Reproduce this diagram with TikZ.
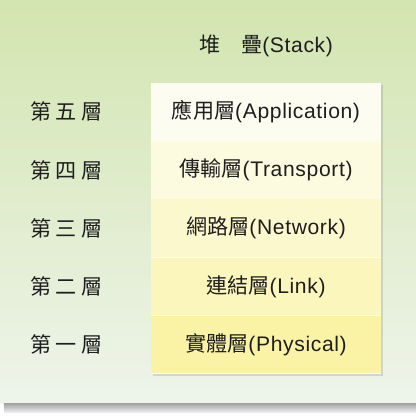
\documentclass[tikz,border=0pt]{standalone}
\usepackage{fontspec}
\setmainfont{Liberation Sans}[LetterSpace=3]
\newfontfamily\cjk{Noto Sans CJK TC}
\usetikzlibrary{positioning,shadows,backgrounds}
\definecolor{BgGreen}{RGB}{211,229,176}
\definecolor{BgPale}{RGB}{238,244,234}
\definecolor{LayerCream}{RGB}{253,252,240}
\definecolor{LayerYellow}{RGB}{250,243,165}
\definecolor{TextGray}{RGB}{30,30,30}

\begin{document}
\begin{tikzpicture}[
x=0.025cm,y=-0.025cm,
node distance=0mm,
layer/.style={
  rectangle,
  minimum width=5.75cm,
  minimum height=1.44cm,
  inner sep=0pt,
  font=\fontsize{15}{18}\selectfont,
  text=TextGray
},
num/.style={
  minimum width=2cm,
  inner sep=0pt,
  font=\fontsize{15}{18}\selectfont,
  text=TextGray
}
]
\useasboundingbox (0,0) rectangle (416,416);
\node[layer,fill=LayerCream] (app) at (266,111.8) {{\cjk 應用層}(Application)};
\node[layer,fill=LayerCream!78!LayerYellow,below=of app] (trans) {{\cjk 傳輸層}(Transport)};
\node[layer,fill=LayerCream!55!LayerYellow,below=of trans] (net) {{\cjk 網路層}(Network)};
\node[layer,fill=LayerCream!30!LayerYellow,below=of net] (link) {{\cjk 連結層}(Link)};
\node[layer,fill=LayerYellow,below=of link] (phy) {{\cjk 實體層}(Physical)};
\node[num,left=1.1cm of app] (n5) {\cjk 第 五 層};
\node[num,left=1.1cm of trans] (n4) {\cjk 第 四 層};
\node[num,left=1.1cm of net] (n3) {\cjk 第 三 層};
\node[num,left=1.1cm of link] (n2) {\cjk 第 二 層};
\node[num,left=1.1cm of phy] (n1) {\cjk 第 一 層};
\node[num,above=0.65cm of app] (stack) {{\cjk 堆　疊}(Stack)};
\begin{scope}[on background layer]
% page shading and bottom rule
\shade[top color=BgGreen,bottom color=BgPale] (0,0) rectangle (416,403);
\shade[top color=gray!75,bottom color=gray!15] (4,403) rectangle (416,412);
% box shadow
\path[fill=LayerCream,drop shadow={shadow xshift=0.05cm,shadow yshift=-0.05cm,opacity=0.25}]
  (app.north west) rectangle (phy.south east);
\end{scope}
\end{tikzpicture}
\end{document}
